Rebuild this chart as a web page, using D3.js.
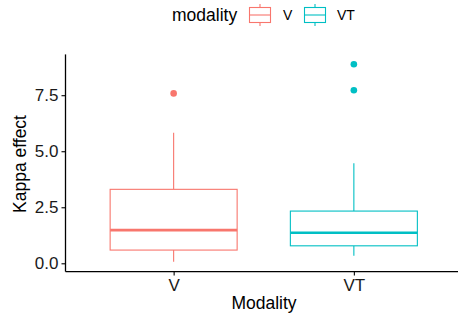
<!DOCTYPE html>
<html>
<head>
<meta charset="utf-8">
<script src="https://cdn.jsdelivr.net/npm/d3@7"></script>
<style>
  body { margin: 0; background: #fff; }
  text { font-family: "Liberation Sans", Arial, Helvetica, sans-serif; }
</style>
</head>
<body>
<div id="chart"></div>
<script>
// data
var categories = ["V", "VT"];
var lowerWhisker = [0.07, 0.34];
var q1 = [0.59, 0.78];
var medians = [1.48, 1.36];
var q3 = [3.30, 2.33];
var upperWhisker = [5.82, 4.46];
var outliersV = [7.58];
var outliersVT = [7.72, 8.88];
var yTicks = [0, 2.5, 5, 7.5];
var colors = ["#F8766D", "#00BFC4"];

var W = 458, H = 322;
var svg = d3.select("#chart").append("svg").attr("width", W).attr("height", H);

var outliers = [outliersV, outliersVT];
var boxes = categories.map(function(c, i) {
  return {cat: c, lo: lowerWhisker[i], q1: q1[i], med: medians[i], q3: q3[i], hi: upperWhisker[i],
          out: outliers[i], color: colors[i]};
});

// y domain like ggplot: data range + 5%
var allVals = [];
boxes.forEach(function(b){ allVals.push(b.lo, b.hi); allVals = allVals.concat(b.out); });
var ext = d3.extent(allVals), pad = (ext[1] - ext[0]) * 0.05;

var panel = {l: 65.5, r: 462, t: 54.4, b: 271.6};
var y = d3.scaleLinear().domain([ext[0] - pad, ext[1] + pad]).range([panel.b, panel.t]);
// discrete x with 0.6 expansion each side
var xc = d3.scaleLinear().domain([0.4, 2.6]).range([panel.l, panel.r]);
var x = function(c){ return xc(categories.indexOf(c) + 1); };
var boxW = 127;

// boxes
var g = svg.append("g");
var bx = g.selectAll(".box").data(boxes).enter().append("g").attr("class", "box");
bx.append("line")
  .attr("x1", function(d){ return x(d.cat); }).attr("x2", function(d){ return x(d.cat); })
  .attr("y1", function(d){ return y(d.q3); }).attr("y2", function(d){ return y(d.hi); })
  .attr("stroke", function(d){ return d.color; }).attr("stroke-width", 1.1);
bx.append("line")
  .attr("x1", function(d){ return x(d.cat); }).attr("x2", function(d){ return x(d.cat); })
  .attr("y1", function(d){ return y(d.q1); }).attr("y2", function(d){ return y(d.lo); })
  .attr("stroke", function(d){ return d.color; }).attr("stroke-width", 1.1);
bx.append("rect")
  .attr("x", function(d){ return x(d.cat) - boxW / 2; })
  .attr("width", boxW)
  .attr("y", function(d){ return y(d.q3); })
  .attr("height", function(d){ return y(d.q1) - y(d.q3); })
  .attr("fill", "white").attr("stroke", function(d){ return d.color; }).attr("stroke-width", 1.1);
bx.append("line")
  .attr("x1", function(d){ return x(d.cat) - boxW / 2; }).attr("x2", function(d){ return x(d.cat) + boxW / 2; })
  .attr("y1", function(d){ return y(d.med); }).attr("y2", function(d){ return y(d.med); })
  .attr("stroke", function(d){ return d.color; }).attr("stroke-width", 2.6);
bx.each(function(d){
  d3.select(this).selectAll("circle").data(d.out).enter().append("circle")
    .attr("cx", x(d.cat)).attr("cy", function(v){ return y(v); })
    .attr("r", 3.3).attr("fill", d.color);
});

// axes
var yAxis = svg.append("g").attr("transform", "translate(" + panel.l + ",0)")
  .call(d3.axisLeft(y).tickValues(yTicks).tickFormat(d3.format(".1f")).tickSize(4).tickPadding(3));
var xAxis = svg.append("g").attr("transform", "translate(0," + panel.b + ")")
  .call(d3.axisBottom(xc).tickValues([1, 2]).tickFormat(function(d){ return categories[d - 1]; }).tickSize(4).tickPadding(3));
[yAxis, xAxis].forEach(function(a){
  a.select(".domain").attr("stroke", "black").attr("stroke-width", 1.3);
  a.selectAll(".tick line").attr("stroke", "black").attr("stroke-width", 1.1);
  a.selectAll(".tick text").attr("fill", "#1a1a1a").style("font-size", "17px");
});
yAxis.select(".domain").attr("d", "M0," + panel.t + "V" + panel.b);
xAxis.select(".domain").attr("d", "M" + panel.l + ",0H" + panel.r);

svg.append("text").attr("x", 264).attr("y", 309).attr("text-anchor", "middle")
  .style("font-size", "17.5px").text("Modality");
svg.append("text").attr("transform", "translate(25.5," + ((panel.t + panel.b) / 2 + 1) + ") rotate(-90)")
  .attr("text-anchor", "middle").style("font-size", "17.5px").text("Kappa effect");

// legend
var leg = svg.append("g");
leg.append("text").attr("x", 172).attr("y", 21).style("font-size", "17.5px").text("modality");
var keyX = [260, 315], labX = [283, 337];
var keys = leg.selectAll(".key").data(boxes).enter().append("g").attr("class", "key")
  .attr("transform", function(d, i){ return "translate(" + keyX[i] + ",15)"; });
keys.append("line").attr("x1", 0).attr("x2", 0).attr("y1", -11).attr("y2", 11)
  .attr("stroke", function(d){ return d.color; }).attr("stroke-width", 1.1);
keys.append("rect").attr("x", -10.5).attr("y", -7.5).attr("width", 21).attr("height", 15)
  .attr("fill", "white").attr("stroke", function(d){ return d.color; }).attr("stroke-width", 1.1);
keys.append("line").attr("x1", -10.5).attr("x2", 10.5).attr("y1", 0).attr("y2", 0)
  .attr("stroke", function(d){ return d.color; }).attr("stroke-width", 1.1);
leg.selectAll(".lab").data(boxes).enter().append("text").attr("class", "lab")
  .attr("x", function(d, i){ return labX[i]; }).attr("y", 20)
  .style("font-size", "14px").text(function(d){ return d.cat; });
</script>
</body>
</html>
